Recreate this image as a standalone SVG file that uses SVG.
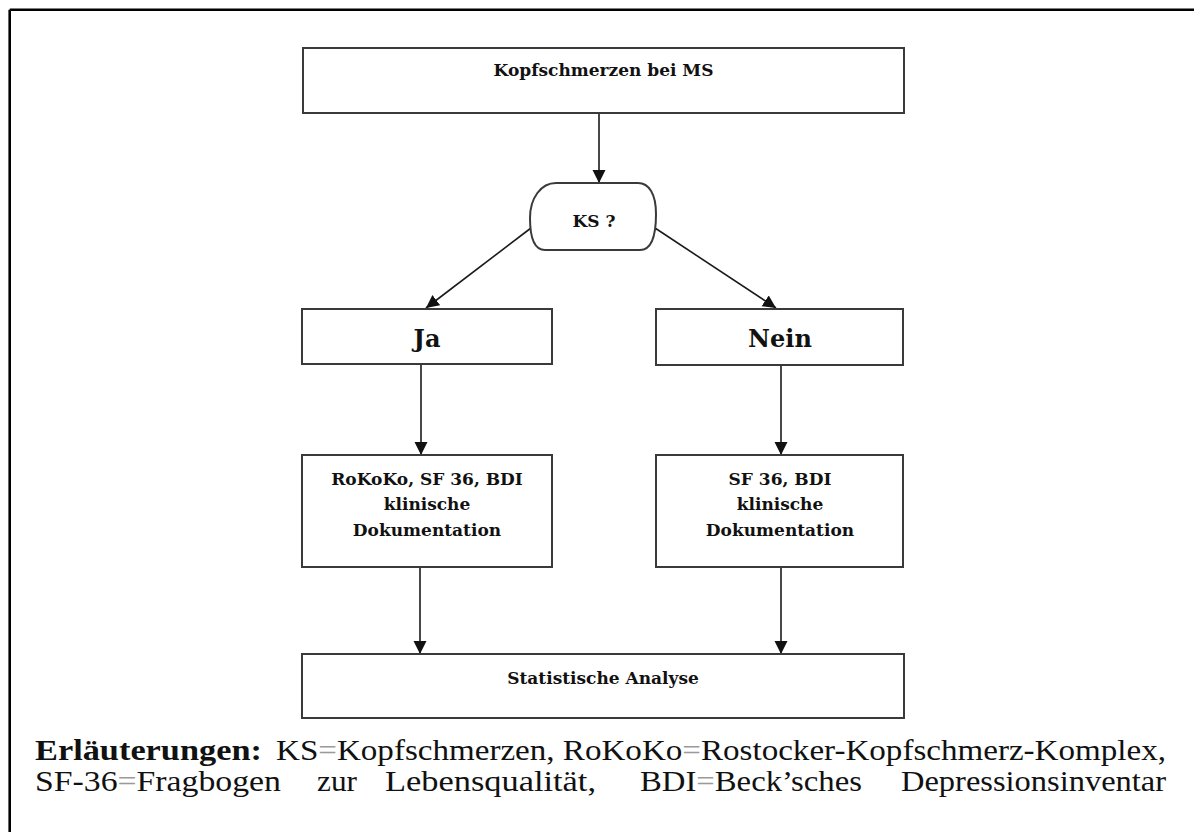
<svg xmlns="http://www.w3.org/2000/svg" width="1194" height="832" viewBox="0 0 1194 832">
  <style>
    .box { fill: #ffffff; stroke: #3a3a3a; stroke-width: 2; }
    .lbl { font-family: "DejaVu Serif", serif; font-weight: bold; fill: #111111; text-anchor: middle; }
    .sm { font-size: 17px; }
    .lg { font-size: 24px; }
    .edge { stroke: #1a1a1a; stroke-width: 1.6; fill: none; marker-end: url(#arrow); }
    .legend text { font-family: "Liberation Serif", "DejaVu Serif", serif; font-size: 30px; font-weight: 400; fill: #111111; }
    .legend text.bf { font-size: 29px; font-weight: 700; }
    .eq { fill: #9a9a9a; }
  </style>
  <defs>
    <marker id="arrow" markerUnits="userSpaceOnUse" markerWidth="14" markerHeight="14" refX="13" refY="6.5" orient="auto">
      <path d="M0,0 L13,6.5 L0,13 Z" fill="#111111"/>
    </marker>
  </defs>

  <rect width="1194" height="832" fill="#ffffff"/>

  <!-- outer frame: left and top rules only -->
  <g id="frame" stroke="#000000" stroke-width="2.6" fill="none">
    <line x1="9.7" y1="9.7" x2="1194" y2="9.7"/>
    <line x1="9.7" y1="9.7" x2="9.7" y2="832"/>
  </g>

  <g id="connectors">
    <line class="edge" x1="599" y1="113" x2="599" y2="183"/>
    <line class="edge" x1="531" y1="228" x2="426" y2="308"/>
    <line class="edge" x1="655" y1="228" x2="776" y2="308"/>
    <line class="edge" x1="421" y1="364" x2="421" y2="455"/>
    <line class="edge" x1="781" y1="365" x2="781" y2="455"/>
    <line class="edge" x1="420" y1="567" x2="420" y2="654"/>
    <line class="edge" x1="781" y1="567" x2="781" y2="654"/>
  </g>

  <g id="node-kopfschmerzen">
    <rect class="box" x="303" y="48" width="601" height="65"/>
    <text class="lbl sm" x="603.5" y="76">Kopfschmerzen bei MS</text>
  </g>

  <g id="node-ks">
    <path class="box" d="M556,183 H638 C649,183 656,194 656,214 C656,236 652,250 640,250 H545 C534,250 530,236 530,218 C530,198 541,183 556,183 Z"/>
    <text class="lbl sm" x="594" y="227">KS ?</text>
  </g>

  <g id="node-ja">
    <rect class="box" x="302" y="309" width="250" height="55"/>
    <text class="lbl lg" x="427" y="347">Ja</text>
  </g>

  <g id="node-nein">
    <rect class="box" x="656" y="309" width="247" height="56"/>
    <text class="lbl lg" x="780" y="347">Nein</text>
  </g>

  <g id="node-ja-tests">
    <rect class="box" x="302" y="455" width="250" height="112"/>
    <text class="lbl sm" x="427" y="485">RoKoKo, SF 36, BDI</text>
    <text class="lbl sm" x="427" y="510">klinische</text>
    <text class="lbl sm" x="427" y="536">Dokumentation</text>
  </g>

  <g id="node-nein-tests">
    <rect class="box" x="656" y="455" width="247" height="112"/>
    <text class="lbl sm" x="780" y="485">SF 36, BDI</text>
    <text class="lbl sm" x="780" y="510">klinische</text>
    <text class="lbl sm" x="780" y="536">Dokumentation</text>
  </g>

  <g id="node-analyse">
    <rect class="box" x="302" y="654" width="602" height="64"/>
    <text class="lbl sm" x="603" y="684">Statistische Analyse</text>
  </g>

  <!-- explanatory note, justified over two lines -->
  <g id="legend" class="legend">
    <text class="bf" x="35" y="760" textLength="227" lengthAdjust="spacingAndGlyphs">Erläuterungen:</text>
    <text x="276" y="760" textLength="890" lengthAdjust="spacingAndGlyphs">KS<tspan class="eq">=</tspan>Kopfschmerzen, RoKoKo<tspan class="eq">=</tspan>Rostocker-Kopfschmerz-Komplex,</text>
    <text x="35" y="791" textLength="246" lengthAdjust="spacingAndGlyphs">SF-36<tspan class="eq">=</tspan>Fragbogen</text>
    <text x="317" y="791" textLength="40" lengthAdjust="spacingAndGlyphs">zur</text>
    <text x="385" y="791" textLength="211" lengthAdjust="spacingAndGlyphs">Lebensqualität,</text>
    <text x="640" y="791" textLength="222" lengthAdjust="spacingAndGlyphs">BDI<tspan class="eq">=</tspan>Beck’sches</text>
    <text x="901" y="791" textLength="265" lengthAdjust="spacingAndGlyphs">Depressionsinventar</text>
  </g>
</svg>
